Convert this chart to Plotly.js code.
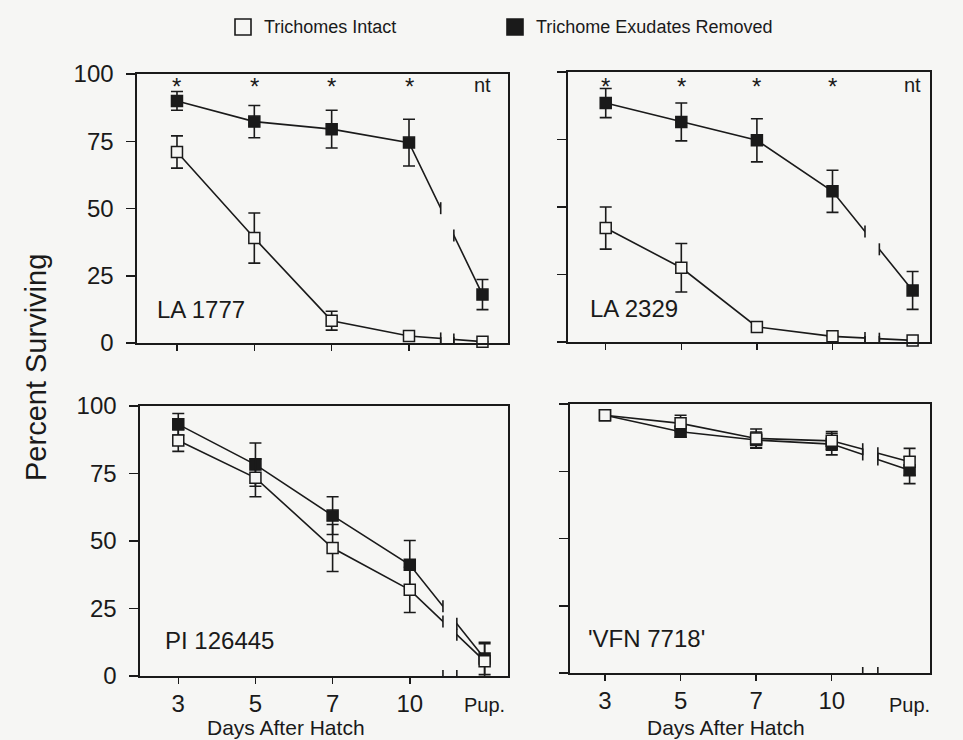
<!DOCTYPE html>
<html>
<head>
<meta charset="utf-8">
<script src="https://cdn.plot.ly/plotly-3.0.1.min.js"></script>
<style>html,body{margin:0;padding:0;background:#f6f6f4;}#chart{width:963px;height:740px;}</style>
</head>
<body>
<div id="chart"></div>
<script>
// ---------------- data ----------------
const categories = ["3", "5", "7", "10", "Pup."];
const seriesNames = ["Trichomes Intact", "Trichome Exudates Removed"];

const la1777Intact     = [71, 39, 8.3, 2.6, 0.5];
const la1777IntactErr  = [6, 9.3, 3.5, 1.5, 0];
const la1777Removed    = [90, 82.3, 79.5, 74.5, 18];
const la1777RemovedErr = [3.5, 6, 7, 8.7, 5.6];
const la1777Sig        = ["*", "*", "*", "*", "nt"];

const la2329Intact     = [42.2, 27.5, 5.6, 2.1, 0.6];
const la2329IntactErr  = [7.8, 9, 0, 0, 0];
const la2329Removed    = [88.5, 81.5, 74.7, 55.8, 19.1];
const la2329RemovedErr = [5.4, 7, 8, 7.8, 7];
const la2329Sig        = ["*", "*", "*", "*", "nt"];

const pi126445Intact     = [87.2, 73.4, 47.4, 31.9, 5.5];
const pi126445IntactErr  = [4, 7, 8.7, 8.4, 6.5];
const pi126445Removed    = [93.2, 78.3, 59.4, 41.2, 6.5];
const pi126445RemovedErr = [4, 8, 7, 9, 6];

const vfnIntact     = [95.8, 92.8, 87.2, 86.3, 78.5];
const vfnIntactErr  = [1, 3, 3.5, 3.5, 5];
const vfnRemoved    = [95.8, 89.7, 86.6, 85.1, 75.4];
const vfnRemovedErr = [1, 2, 3, 4, 5];

const panelLabels = ["LA 1777", "LA 2329", "PI 126445", "'VFN 7718'"];
const yTicks = [0, 25, 50, 75, 100];
const xTitle = "Days After Hatch";
const yTitle = "Percent Surviving";

// ---------------- layout constants ----------------
const W = 963, H = 740;
const BG = '#f6f6f4';
const INK = '#1a1a1a';
const FONT = 'Liberation Sans, Arial, Helvetica, sans-serif';

const panels = [
  {intact: la1777Intact, intactErr: la1777IntactErr, removed: la1777Removed, removedErr: la1777RemovedErr, sig: la1777Sig,
   label: panelLabels[0], px: [137, 508], py: [74, 343], xr: [-0.517, 4.28], pup: 3.95, brk: [3.41, 3.58],
   left: true, bottom: false, labelPos: [155, 309], titleX: 0},
  {intact: la2329Intact, intactErr: la2329IntactErr, removed: la2329Removed, removedErr: la2329RemovedErr, sig: la2329Sig,
   label: panelLabels[1], px: [568, 930], py: [72, 342], xr: [-0.499, 4.29], pup: 4.06, brk: [3.43, 3.62],
   left: false, bottom: false, labelPos: [588, 308], titleX: 0},
  {intact: pi126445Intact, intactErr: pi126445IntactErr, removed: pi126445Removed, removedErr: pi126445RemovedErr, sig: null,
   label: panelLabels[2], px: [140, 508], py: [406, 676], xr: [-0.496, 4.273], pup: 3.97, brk: [3.43, 3.61],
   left: true, bottom: true, labelPos: [163, 640], titleX: 286},
  {intact: vfnIntact, intactErr: vfnIntactErr, removed: vfnRemoved, removedErr: vfnRemovedErr, sig: null,
   label: panelLabels[3], px: [570, 930], py: [404, 673], xr: [-0.463, 4.30], pup: 4.03, brk: [3.41, 3.61],
   left: false, bottom: true, labelPos: [586, 638], titleX: 726}
];

const traces = [];
const layout = {
  width: W, height: H,
  margin: {l: 0, r: 0, t: 0, b: 0},
  paper_bgcolor: BG, plot_bgcolor: BG,
  showlegend: false,
  font: {family: FONT, color: INK},
  shapes: [], annotations: []
};

function pxX(p) { return p / W; }
function pxY(p) { return 1 - p / H; }

panels.forEach((p, k) => {
  const n = k + 1;
  const xa = 'x' + (n === 1 ? '' : n), ya = 'y' + (n === 1 ? '' : n);
  const xKey = 'xaxis' + (n === 1 ? '' : n), yKey = 'yaxis' + (n === 1 ? '' : n);
  const pos = categories.map((c, i) => i < 4 ? i : p.pup);

  layout[xKey] = {
    domain: [pxX(p.px[0]), pxX(p.px[1])], anchor: ya, range: p.xr,
    tickvals: [0, 1, 2, 3], ticktext: categories.slice(0, 4),
    ticks: 'outside', ticklen: 6, tickwidth: 1.5, tickcolor: INK,
    showline: true, mirror: true, linewidth: 1.6, linecolor: INK,
    showgrid: false, zeroline: false, showticklabels: p.bottom,
    tickfont: {size: 24, color: INK, family: FONT}, fixedrange: true
  };
  layout[yKey] = {
    domain: [pxY(p.py[1]), pxY(p.py[0])], anchor: xa, range: [0, 100],
    tickvals: yTicks, ticktext: yTicks.map(String),
    ticks: 'outside', ticklen: 9, tickwidth: 1.5, tickcolor: INK,
    showline: true, mirror: true, linewidth: 1.6, linecolor: INK,
    showgrid: false, zeroline: false, showticklabels: p.left,
    ticklabelstandoff: 8,
    tickfont: {size: 24, color: INK, family: FONT}, fixedrange: true
  };

  const series = [
    {y: p.removed, e: p.removedErr, fill: INK, name: seriesNames[1]},
    {y: p.intact, e: p.intactErr, fill: BG, name: seriesNames[0]}
  ];
  series.forEach(s => {
    traces.push({
      type: 'scatter', mode: 'lines+markers', x: pos, y: s.y, xaxis: xa, yaxis: ya, name: s.name,
      cliponaxis: false,
      line: {color: INK, width: 1.6},
      marker: {symbol: 'square', size: 11, color: s.fill, line: {color: INK, width: 1.5}},
      error_y: {type: 'data', array: s.e, visible: true, thickness: 1.6, width: 6, color: INK}
    });
  });

  // axis break: blank the gap, then draw the break bars
  layout.shapes.push({type: 'rect', xref: xa, yref: ya, x0: p.brk[0], x1: p.brk[1], y0: -6, y1: 96,
    fillcolor: BG, line: {width: 0}, layer: 'above'});
  p.brk.forEach(bx => {
    layout.shapes.push({type: 'line', xref: xa, yref: ya, x0: bx, x1: bx, ysizemode: 'pixel', yanchor: 0,
      y0: -6, y1: 6, line: {color: INK, width: 1.6}, layer: 'above'});
    series.forEach(s => {
      const t = (bx - 3) / (p.pup - 3);
      const yb = s.y[3] + (s.y[4] - s.y[3]) * t;
      layout.shapes.push({type: 'line', xref: xa, yref: ya, x0: bx, x1: bx, ysizemode: 'pixel', yanchor: yb,
        y0: -6, y1: 6, line: {color: INK, width: 1.6}, layer: 'above'});
    });
  });

  layout.annotations.push({text: p.label, xref: 'paper', yref: 'paper', x: pxX(p.labelPos[0]), y: pxY(p.labelPos[1]),
    xanchor: 'left', yanchor: 'middle', showarrow: false, font: {size: 24, color: INK, family: FONT}});

  if (p.sig) {
    p.sig.forEach((s, i) => {
      const isStar = s === '*';
      layout.annotations.push({text: s, xref: xa, yref: 'paper', x: pos[i],
        y: pxY(isStar ? 86 : 85), xanchor: 'center', yanchor: 'middle', showarrow: false,
        font: {size: isStar ? 24 : 20, color: INK, family: FONT}});
    });
  }

  if (p.bottom) {
    layout.annotations.push({text: categories[4], xref: xa, yref: 'paper', x: p.pup, y: pxY(705),
      xanchor: 'center', yanchor: 'middle', showarrow: false, font: {size: 20, color: INK, family: FONT}});
    layout.annotations.push({text: xTitle, xref: 'paper', yref: 'paper', x: pxX(p.titleX), y: pxY(727),
      xanchor: 'center', yanchor: 'middle', showarrow: false, font: {size: 21, color: INK, family: FONT}});
  }
});

layout.annotations.push({text: yTitle, xref: 'paper', yref: 'paper', x: pxX(36), y: pxY(368), textangle: -90,
  xanchor: 'center', yanchor: 'middle', showarrow: false, font: {size: 29, color: INK, family: FONT}});

layout.shapes.push({type: 'rect', xref: 'paper', yref: 'paper', x0: pxX(235), x1: pxX(251), y0: pxY(35), y1: pxY(19),
  fillcolor: BG, line: {color: INK, width: 1.6}});
layout.shapes.push({type: 'rect', xref: 'paper', yref: 'paper', x0: pxX(507), x1: pxX(523), y0: pxY(35), y1: pxY(19),
  fillcolor: INK, line: {color: INK, width: 1.6}});
layout.annotations.push({text: seriesNames[0], xref: 'paper', yref: 'paper', x: pxX(262), y: pxY(27),
  xanchor: 'left', yanchor: 'middle', showarrow: false, font: {size: 18, color: INK, family: FONT}});
layout.annotations.push({text: seriesNames[1], xref: 'paper', yref: 'paper', x: pxX(534), y: pxY(27),
  xanchor: 'left', yanchor: 'middle', showarrow: false, font: {size: 18, color: INK, family: FONT}});

Plotly.newPlot('chart', traces, layout, {displayModeBar: false, staticPlot: true});
</script>
</body>
</html>
